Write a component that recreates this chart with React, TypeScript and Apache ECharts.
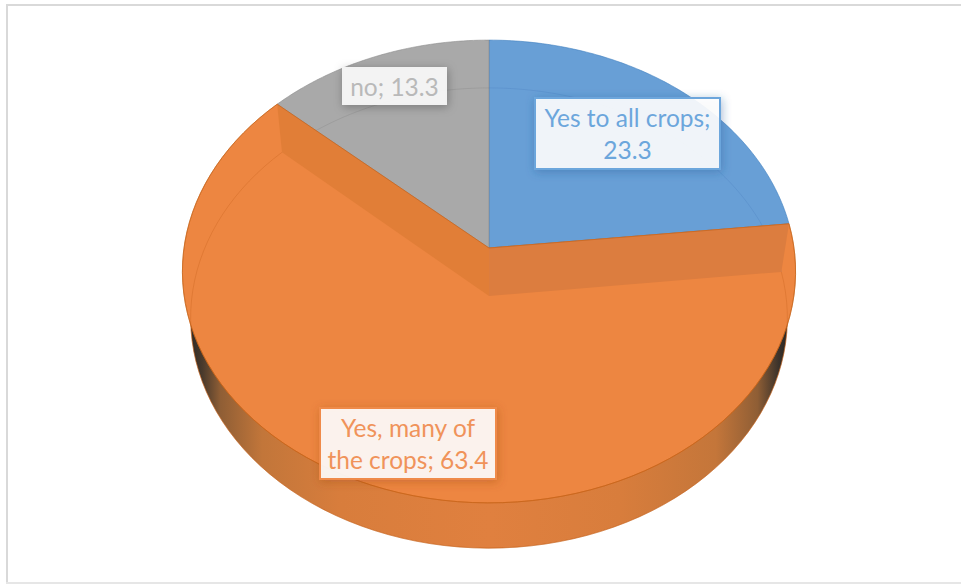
import React, { useEffect, useRef } from "react";
import * as echarts from "echarts";

// Survey answers and their shares (percent)
const categories = ["Yes to all crops", "Yes, many of the crops", "no"];
const shares = [23.3, 63.4, 13.3];
const faceColors = ["#689FD6", "#ED8641", "#A9A9A9"];
const edgeColors = ["#3F7FC0", "#C8641A", "#8C8C8C"];
const rimColors = ["rgba(60,110,180,0.20)", "rgba(190,90,20,0.28)", "rgba(110,110,110,0.20)"];
const textColors = ["#6CA6DC", "#F0935A", "#B9B9B9"];
const labelFills = ["rgba(255,255,255,0.89)", "rgba(255,255,255,0.89)", "rgba(255,255,255,0.87)"];
const labelBorders = ["#6CA6DC", "#EF8A48", "#F2F2F2"];
const labelShadows = ["rgba(40,90,150,0.45)", "rgba(150,70,20,0.40)", "rgba(0,0,0,0.30)"];
const labelBoxes = [
  [535, 98, 185, 71],
  [320, 408, 176, 71],
  [343, 68, 103, 36],
];
const labelBreaks = [17, 12, 0];

// The two perspective discs of the 3-D pie: upper face and base
const CX = 489;
const topDisc = { cy: 248, a: 305, b: 229, k: 0.1015 };
const baseDisc = { cy: 296, a: 297, b: 228, k: 0.0957 };
const ARC_STEPS = 90;

type Disc = typeof topDisc;

const project = (d: Disc, t: number): number[] => {
  const w = 1 + d.k * Math.cos(t);
  return [CX + (d.a * Math.sin(t)) / w, d.cy - (d.b * Math.cos(t)) / w];
};

const arcPoints = (d: Disc, from: number, to: number): number[][] => {
  const pts: number[][] = [];
  for (let i = 0; i <= ARC_STEPS; i++) pts.push(project(d, from + ((to - from) * i) / ARC_STEPS));
  return pts;
};

const total = shares.reduce((s, v) => s + v, 0);

const wallGradient = () =>
  new echarts.graphic.LinearGradient(0, 0, 1, 0, [
    { offset: 0, color: "#2E2A26" },
    { offset: 0.02, color: "#4A3A2C" },
    { offset: 0.05, color: "#8F5E35" },
    { offset: 0.12, color: "#C2763A" },
    { offset: 0.25, color: "#D87D3C" },
    { offset: 0.5, color: "#E0803F" },
    { offset: 0.72, color: "#D87D3C" },
    { offset: 0.88, color: "#C4763A" },
    { offset: 0.95, color: "#8F5E35" },
    { offset: 0.985, color: "#3C332B" },
    { offset: 1, color: "#2A2724" },
  ]);

const renderSlice = (params: any, api: any) => {
  const i = params.dataIndex;
  const value = api.value(0);
  const before = shares.slice(0, i).reduce((s, v) => s + v, 0);
  const from = (before / total) * Math.PI * 2;
  const to = ((before + value) / total) * Math.PI * 2;
  const apexTop = [CX, topDisc.cy];
  const apexBase = [CX, baseDisc.cy];
  const children: any[] = [];

  // Upper face of the slice
  children.push({
    type: "polygon",
    z2: 2,
    shape: { points: [apexTop, ...arcPoints(topDisc, from, to)] },
    style: { fill: faceColors[i], stroke: edgeColors[i], lineWidth: 0.6 },
  });

  // Faint outline of the base seen through the face, under the cut faces
  children.push({
    type: "polyline",
    z2: 2.5,
    shape: { points: arcPoints(baseDisc, from, to) },
    style: { fill: "none", stroke: rimColors[i], lineWidth: 1 },
  });

  // The largest slice carries the side wall and the two inner cut faces
  if (value === Math.max(...shares)) {
    children.push({
      type: "polygon",
      z2: 1,
      shape: { points: [apexBase, ...arcPoints(baseDisc, from, to)] },
      style: { fill: wallGradient(), stroke: "#C8641A", lineWidth: 0.5 },
    });
    children.push({
      type: "polygon",
      z2: 3,
      shape: { points: [apexTop, project(topDisc, from), project(baseDisc, from), apexBase] },
      style: { fill: "#DC7D3F" },
    });
    children.push({
      type: "polygon",
      z2: 3,
      shape: { points: [project(topDisc, to), apexTop, apexBase, project(baseDisc, to)] },
      style: { fill: "#E17E37" },
    });
    children.push({
      type: "polyline",
      z2: 5,
      shape: { points: arcPoints(topDisc, from, to) },
      style: { fill: "none", stroke: "rgba(200,100,26,0.75)", lineWidth: 0.9 },
    });
    children.push({
      type: "polyline",
      z2: 5,
      shape: { points: [project(topDisc, from), apexTop, project(topDisc, to)] },
      style: { fill: "none", stroke: "#C96A25", lineWidth: 0.9 },
    });
  }

  // Data label: box plus "name; value" text
  const [bx, by, bw, bh] = labelBoxes[i];
  const raw = `${categories[i]}; ${value}`;
  const cut = labelBreaks[i];
  const text = cut ? `${raw.slice(0, cut).trimEnd()}\n${raw.slice(cut).trimStart()}` : raw;
  children.push({
    type: "rect",
    z2: 6,
    shape: { x: bx, y: by, width: bw, height: bh },
    style: {
      fill: labelFills[i],
      stroke: labelBorders[i],
      lineWidth: 2,
      shadowBlur: 10,
      shadowOffsetX: 1,
      shadowOffsetY: 2,
      shadowColor: labelShadows[i],
    },
  });
  children.push({
    type: "text",
    z2: 7,
    style: {
      text,
      x: bx + bw / 2,
      y: by + bh / 2,
      fill: textColors[i],
      fontFamily: "Lato",
      fontSize: 24.5,
      lineHeight: 32,
      align: "center",
      verticalAlign: "middle",
    },
  });

  return { type: "group", children };
};

const frameColor = "#D9D9D9";

export default function App() {
  const ref = useRef<HTMLDivElement>(null);

  useEffect(() => {
    const chart = echarts.init(ref.current, undefined, { renderer: "svg" });
    chart.setOption({
      animation: false,
      backgroundColor: "#FFFFFF",
      graphic: [
        { type: "rect", silent: true, shape: { x: 6, y: 4, width: 955, height: 2 }, style: { fill: frameColor } },
        { type: "rect", silent: true, shape: { x: 6, y: 4, width: 2, height: 580 }, style: { fill: frameColor } },
        { type: "rect", silent: true, shape: { x: 6, y: 582, width: 955, height: 2 }, style: { fill: "#E6E6E6" } },
      ],
      series: [
        {
          type: "custom",
          coordinateSystem: "none",
          renderItem: renderSlice,
          data: categories.map((name, i) => ({ name, value: shares[i] })),
        },
      ],
    });
    return () => chart.dispose();
  }, []);

  return <div ref={ref} style={{ position: "absolute", left: 0, top: 0, width: 961, height: 584 }} />;
}
